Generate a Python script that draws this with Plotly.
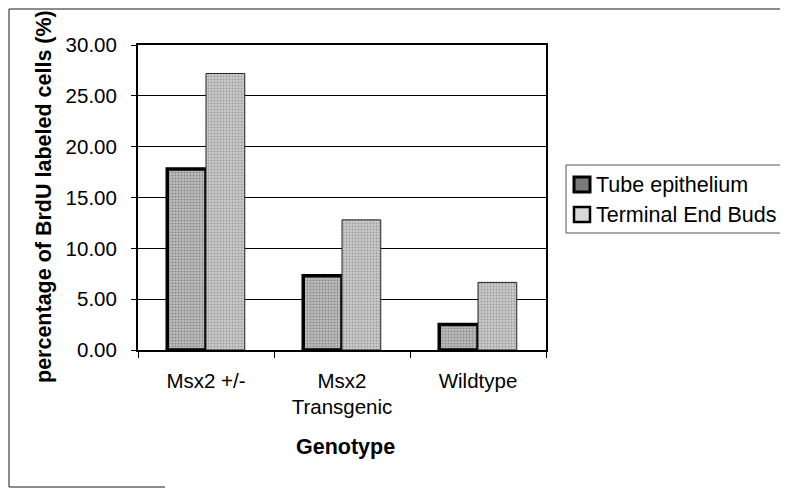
import plotly.graph_objects as go

categories = ["Msx2 +/-", "Msx2<br>Transgenic", "Wildtype"]
tube_epithelium = [17.8, 7.3, 2.5]
terminal_end_buds = [27.2, 12.8, 6.65]
y_ticks = [0, 5, 10, 15, 20, 25, 30]
y_tick_labels = ["0.00", "5.00", "10.00", "15.00", "20.00", "25.00", "30.00"]
series_names = ["Tube epithelium", "Terminal End Buds"]

FONT = "Liberation Sans, Arial, sans-serif"
TICK_SIZE = 20.5
TITLE_SIZE = 21.5

# The page body adds an 8 px margin, so the figure is drawn 8 px smaller
OFF = 8
W, H = 788 - OFF, 489 - OFF
L, T = 138 - OFF, 45 - OFF
R = W - (546 - OFF)
B = H - (350 - OFF)
pw, ph = W - L - R, H - T - B


def px(x):
    """reference-screen x -> paper x"""
    return (x - OFF - L) / pw


def py(y):
    """reference-screen y -> paper y"""
    return (H - B - (y - OFF)) / ph


tube_marker = dict(color="#a0a0a0", line=dict(color="black", width=3.5),
                   pattern=dict(shape=".", fgcolor="#5a5a5a", bgcolor="#bdbdbd", size=3, solidity=0.4))
teb_marker = dict(color="#b8b8b8", line=dict(color="#222", width=1),
                  pattern=dict(shape=".", fgcolor="#707070", bgcolor="#cacaca", size=3, solidity=0.35))

fig = go.Figure()
fig.add_trace(go.Bar(name=series_names[0], x=categories, y=tube_epithelium, marker=tube_marker))
fig.add_trace(go.Bar(name=series_names[1], x=categories, y=terminal_end_buds, marker=teb_marker))

shapes = [
    # outer chart frame (partial, as in the scan)
    dict(type="line", xref="paper", yref="paper", x0=px(9), x1=px(788), y0=py(9), y1=py(9),
         line=dict(color="#666", width=1.5)),
    dict(type="line", xref="paper", yref="paper", x0=px(9), x1=px(9), y0=py(9), y1=py(487),
         line=dict(color="#666", width=1.5)),
    dict(type="line", xref="paper", yref="paper", x0=px(9), x1=px(165), y0=py(487), y1=py(487),
         line=dict(color="#666", width=1.5)),
    # legend box
    dict(type="rect", xref="paper", yref="paper", x0=px(566), x1=px(787), y0=py(165), y1=py(233),
         line=dict(color="#555", width=1), fillcolor="white", layer="below"),
    # legend keys
    dict(type="rect", xref="paper", yref="paper", x0=px(574), x1=px(590), y0=py(177), y1=py(192),
         line=dict(color="black", width=3), fillcolor="#7a7a7a"),
    dict(type="rect", xref="paper", yref="paper", x0=px(574), x1=px(590), y0=py(207), y1=py(222),
         line=dict(color="black", width=2.5), fillcolor="#d8d8d8"),
]

annotations = [
    dict(text="<b>percentage of BrdU labeled cells (%)</b>", xref="paper", yref="paper",
         x=px(44), y=py(197), xanchor="center", yanchor="middle", textangle=-90,
         showarrow=False, font=dict(size=TITLE_SIZE, family=FONT, color="black")),
    dict(text="<b>Genotype</b>", xref="paper", yref="paper",
         x=px(345), y=py(447), xanchor="center", yanchor="middle",
         showarrow=False, font=dict(size=TITLE_SIZE, family=FONT, color="black")),
    dict(text=series_names[0], xref="paper", yref="paper", x=px(594), y=py(185),
         xanchor="left", yanchor="middle", showarrow=False,
         font=dict(size=21.5, family=FONT, color="black")),
    dict(text=series_names[1], xref="paper", yref="paper", x=px(594), y=py(215),
         xanchor="left", yanchor="middle", showarrow=False,
         font=dict(size=21.5, family=FONT, color="black")),
]

fig.update_layout(
    width=W, height=H,
    margin=dict(l=L, r=R, t=T, b=B, pad=0),
    paper_bgcolor="white", plot_bgcolor="white",
    barmode="group", bargap=0.43, bargroupgap=0,
    font=dict(family=FONT, color="black", size=TICK_SIZE),
    showlegend=False,
    xaxis=dict(
        showline=True, linecolor="black", linewidth=2, mirror=True,
        ticks="outside", tickson="boundaries", ticklen=6, tickcolor="black",
        tickfont=dict(size=TICK_SIZE, family=FONT), ticklabelstandoff=11,
        showgrid=False,
    ),
    yaxis=dict(
        range=[0, 30], tickvals=y_ticks, ticktext=y_tick_labels,
        showline=True, linecolor="black", linewidth=2, mirror=True,
        ticks="outside", ticklen=5, tickcolor="black",
        showgrid=True, gridcolor="black", gridwidth=1,
        tickfont=dict(size=TICK_SIZE, family=FONT), ticklabelstandoff=10,
        zeroline=False,
    ),
    shapes=shapes,
    annotations=annotations,
)

fig.write_html("out.html")
